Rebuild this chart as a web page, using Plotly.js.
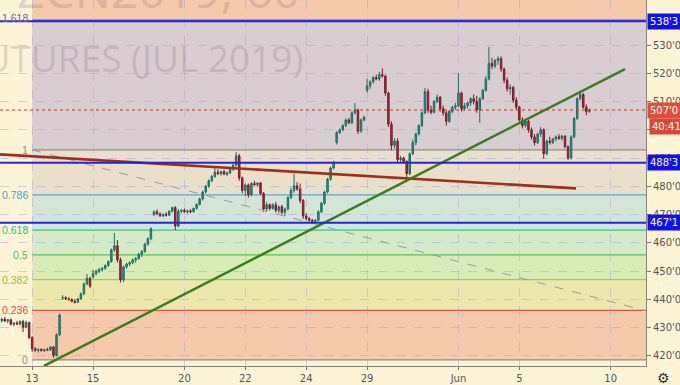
<!DOCTYPE html>
<html><head><meta charset="utf-8">
<script src="https://cdn.plot.ly/plotly-3.0.1.min.js"></script>
<style>html,body{margin:0;padding:0;background:#fdf3d5;}#chart{width:680px;height:385px;}</style>
</head><body><div id="chart"></div>
<script>
// ---- x axis (trading-day index, 0 = May 13) ----
const tickDays   = [0, 2, 5, 7, 9, 11, 14, 16, 19];
const tickLabels = ['13', '15', '20', '22', '24', '29', 'Jun', '5', '10'];
const barStart = -1, barStep = 0.1;   // hourly bars, 10 per trading day

// ---- hourly OHLC ----
const open = [
432.5,433,432.4,432.8,431.2,431.6,431.3,432.2,430.2,431.8,
426.5,422.5,422,422.3,421.9,422.2,422.1,423.2,420.2,427.5,
440.5,440.6,440.2,440,439.3,439,440.2,442,445.5,447.5,
448,449.2,450,450.6,451,452,453.4,457.5,459,454,
447,451.5,452.5,453,454,454.5,456,457,459.5,461.5,
470,471,470.2,469.6,470,469.8,471.2,472.5,466,471.2,
471.5,471,471.3,471,472.2,473.6,475.5,478,480,482,
483.5,485,484.5,485.2,484.3,484.8,486,487.5,490.8,483,
478.5,480.5,477,481,480.6,481.2,477.5,472,473.5,472.2,
473.5,471.5,472.8,470.8,472,476,478.5,480.2,479,475,
469.5,468.6,468,467.6,468,471,474,478,482.5,486.5,
495.5,499,500,501.5,503.5,502.5,506,507,499.5,503.5,
514,515.5,517,518.5,518,519.5,519,513,502,494.5,
496,489.5,490,488.8,484.5,491.5,495.5,498.5,501.5,506,
513.5,507,506.2,510,511.5,507.5,506,503,506.5,508,
508.5,513,507.5,508.5,509.5,511,510,507,511,514,
518,523.5,522.5,524.5,525.2,521.5,517.5,514.5,515,510.5,
508,503.5,501.5,503,500,497.5,495.5,498.5,500,491.5,
496,495.5,496.8,497.5,497,497.8,494,490,497.5,504,
511,512.5,508,506.5];
const high = [
433.5,433.8,433,433.2,432,432.4,432.6,432.8,432.5,432.2,
427,423.2,422.8,422.8,422.6,422.9,423.5,423.6,428,435,
441.5,441.2,440.8,440.4,440,440.5,442.5,446,449,448,
450.5,450.5,451.2,451.5,452.4,453.8,458,463.5,461,454.8,
452,453,453.5,454.5,455,456.5,457.5,460,462,465.5,
471.5,471.8,470.8,470.5,470.8,471.5,472.8,473,472,472,
472.2,471.8,472,472.5,474,476,478.5,480.5,482.5,484,
486.5,486,485.5,485.8,485.2,486.5,488,492.2,491.5,483.5,
481,481,481.5,482,481.5,481.6,478,474.5,474,474,
474.5,473.2,473.5,472.5,476.5,479.5,484.5,481.5,481,475.5,
470.5,469.2,468.5,468.4,471.5,474.5,478.5,483,487,489,
499.5,500.5,502,504,504.2,506.5,509.5,507.5,504,505,
518,517.5,519,519.5,520.5,521.8,519.5,513.5,503,497,
497,490.8,490.5,489.2,492,496.5,499,502,506.5,514.8,
514.5,508.5,510.5,512.5,512,508.5,506.8,507,508.5,509.5,
520,513.5,509.5,510,511.5,512.5,512,511.5,514.5,519,
529.3,525.5,525,526,526,522,518.5,516,515.5,511.5,
508.5,504.5,504,503.5,500.8,498.5,499,501,500.5,496.5,
497.5,497,498,498.5,498.2,498,494.5,498,504.5,511.5,
513.4,513,509,507.5];
const low = [
431.8,432,431.5,430.8,430.5,431,430.8,428.5,429.8,426,
421.5,421.5,421.2,421.6,421.4,421.8,421.8,419.4,419.8,427,
439.8,439.8,439.5,439,438.6,438.7,440,441.5,445,444,
447.5,448.5,449.3,449.8,450.5,451.5,453,456.8,453,446,
446.2,450.8,451.8,452.5,453,454,455,456.5,459,461,
469.5,469.8,469.2,469,469.3,469.5,470.8,464.5,465.5,470.5,
470.6,470.3,470.5,470.8,471.8,473.2,475,477.5,479.5,481.5,
483,484,483.8,484,483.6,484.3,485.5,487,482,477.5,
476.5,476,476.5,480.2,479.8,477,471,471.2,471.5,471.8,
470.8,470.5,470,469.5,471.5,475.5,477.8,478.5,474,468.5,
468,467.5,467.2,467.1,467.6,470.5,473.5,477.5,482,486,
494.8,498.5,499.5,501,502,502,505.5,498.5,499,503,
513.2,514.5,516.3,517.5,517.3,518.5,512,501,492.8,493.5,
488.5,488.6,488.4,483.3,484,491,494.5,498,501,505.5,
506,505.5,505.8,509.5,506.5,505,501.5,502.5,505.8,507,
508,506.5,506.8,507.5,508.5,509,506,502.5,510.5,513.5,
517.5,521.5,521.8,523,520.5,516.5,513.5,512.5,509.5,507,
502.5,500.5,500.8,499,496.5,494.5,495,497.5,489.8,491,
494.8,495,496,496.5,496.2,493.5,489.3,489.5,497,503.5,
510.5,507.5,505.2,506];
const close = [
433,432.4,432.8,431.2,431.6,431.3,432.2,430.2,431.8,426.5,
422.5,422,422.3,421.9,422.2,422.1,423.2,420.2,427.5,434.5,
440.6,440.2,440,439.3,439,440.2,442,445.5,447.5,444.8,
449.2,450,450.6,451,452,453.4,457.5,459,454,447,
451.5,452.5,453,454,454.5,456,457,459.5,461.5,465,
471,470.2,469.6,470,469.8,471.2,472.5,466,471.2,471.5,
471,471.3,471,472.2,473.6,475.5,478,480,482,483.5,
485,484.5,485.2,484.3,484.8,486,487.5,490.8,483,478.5,
480.5,477,481,480.6,481.2,477.5,472,473.5,472.2,473.5,
471.5,472.8,470.8,472,476,478.5,480.2,479,475,469.5,
468.6,468,467.6,468,471,474,478,482.5,486.5,488.5,
499,500,501.5,503.5,502.5,506,507,499.5,503.5,504.5,
515.5,517,518.5,518,519.5,519,513,502,494.5,496,
489.5,490,488.8,484.5,491.5,495.5,498.5,501.5,506,513.5,
507,506.2,510,511.5,507.5,506,503,506.5,508,508.5,
513,507.5,508.5,509.5,511,510,507,511,514,518,
523.5,522.5,524.5,525.2,521.5,517.5,514.5,515,510.5,508,
503.5,501.5,503,500,497.5,495.5,498.5,500,491.5,496,
495.5,496.8,497.5,497,497.8,494,490,497.5,504,511,
512.5,508,506.5,507];

// ---- y axis ticks ----
const priceTicks = [420,430,440,450,460,470,480,490,500,510,520,530];

// ---- Fibonacci retracement ----
const fibStartDay = 0;
const fibPrice0 = 418.6, fibPrice1 = 492.9;
const fibLevels = [0, 0.236, 0.382, 0.5, 0.618, 0.786, 1, 1.618, 2.618];
const fibLabels = ['0', '0.236', '0.382', '0.5', '0.618', '0.786', '1', '1.618', ''];
const fibLineColors = ['#8d8d96', '#e0533e', '#a6cc3a', '#5cbf58', '#36c49a', '#55a7dc', '#8d8d96', '#4f57c8', '#e0533e'];
const fibLabelColors = ['#8d8d96', '#e0533e', '#9cc52e', '#4fbf4f', '#2fc08f', '#4aa0d8', '#8d8d96', '#6a6a90', '#e0533e'];
const fibZoneColors = ['#f5c9ab', '#ebe8ae', '#d9ebb6', '#d4ebc6', '#d3e5d6', '#eadfc8', '#d8cdd0', '#f5c9ab'];

// ---- drawn lines ----
const greenLineX = [0.39, 19.47], greenLineY = [416.5, 521.5];
const redLineX = [-1.057, 17.86], redLineY = [491.3, 479.3];
const fibDashX = [0, 20.12], fibDashY = [492.9, 436.1];
const hLevels = [538.375, 488.375, 467.125];
const hLevelLabels = ["538'3", "488'3", "467'1"];
const lastPrice = 507.0, lastPriceLabel = "507'0", countdown = '40:41';

const xRange = [-1.057, 20.16];
const yRange = [416.46, 545.92];

const xs = open.map((_, i) => barStart + barStep * i);

const traces = [
  {type: 'candlestick', x: xs, open: open, high: high, low: low, close: close,
   increasing: {line: {color: '#1f6e64', width: 1}, fillcolor: '#2f8f80'},
   decreasing: {line: {color: '#7c1b2c', width: 1}, fillcolor: '#a92b41'},
   whiskerwidth: 0, hoverinfo: 'skip', showlegend: false},
  {type: 'scatter', mode: 'lines', x: fibDashX, y: fibDashY,
   line: {color: '#9a9a9a', width: 1, dash: 'dash'}, hoverinfo: 'skip', showlegend: false},
  {type: 'scatter', mode: 'lines', x: redLineX, y: redLineY,
   line: {color: '#a02e1c', width: 2.6}, hoverinfo: 'skip', showlegend: false},
  {type: 'scatter', mode: 'lines', x: greenLineX, y: greenLineY,
   line: {color: '#3a7f1c', width: 2.5}, hoverinfo: 'skip', showlegend: false}
];

const shapes = [];
const annotations = [];
const fibPrice = lv => fibPrice0 + lv * (fibPrice1 - fibPrice0);
for (let k = 0; k < fibLevels.length - 1; k++) {
  shapes.push({type: 'rect', layer: 'below', xref: 'x', yref: 'y',
    x0: fibStartDay, x1: 30, y0: fibPrice(fibLevels[k]), y1: fibPrice(fibLevels[k + 1]),
    fillcolor: fibZoneColors[k], line: {width: 0}});
}
for (let k = 0; k < fibLevels.length - 1; k++) {
  shapes.push({type: 'line', layer: 'below', xref: 'x', yref: 'y',
    x0: fibStartDay, x1: 30, y0: fibPrice(fibLevels[k]), y1: fibPrice(fibLevels[k]),
    line: {color: fibLineColors[k], width: 1.2}});
  annotations.push({xref: 'x', yref: 'y', x: fibStartDay, y: fibPrice(fibLevels[k]),
    xanchor: 'right', yanchor: 'middle', xshift: -2, yshift: (fibLevels[k] === 1.618 ? 2 : 0), showarrow: false,
    text: fibLabels[k], font: {family: 'Liberation Sans, Arial, sans-serif', size: 10.5, color: fibLabelColors[k]}});
}
// horizontal blue levels
hLevels.forEach((p, k) => {
  shapes.push({type: 'line', layer: 'above', xref: 'paper', yref: 'y', x0: 0, x1: 1, y0: p, y1: p,
    line: {color: '#2323e6', width: 2}});
  annotations.push({xref: 'paper', yref: 'y', x: 1, y: p, xanchor: 'left', yanchor: 'middle',
    xshift: 1, showarrow: false, text: hLevelLabels[k], bgcolor: '#1010f0', borderpad: 2,
    font: {family: 'DejaVu Sans, sans-serif', size: 10, color: '#ffffff'}});
});
// last price line
shapes.push({type: 'line', layer: 'above', xref: 'paper', yref: 'y', x0: 0, x1: 1, y0: lastPrice, y1: lastPrice,
  line: {color: '#c0392b', width: 1, dash: 'dot'}});
annotations.push({xref: 'paper', yref: 'y', x: 1, y: lastPrice, xanchor: 'left', yanchor: 'middle',
  xshift: 1, showarrow: false, text: lastPriceLabel, bgcolor: '#df4f37', borderpad: 2,
  font: {family: 'DejaVu Sans, sans-serif', size: 10, color: '#ffffff'}});
annotations.push({xref: 'paper', yref: 'y', x: 1, y: lastPrice, xanchor: 'left', yanchor: 'top',
  xshift: 3, yshift: -8, showarrow: false, text: countdown, bgcolor: '#d9463a', borderpad: 2,
  font: {family: 'DejaVu Sans, sans-serif', size: 10, color: '#ffffff'}});
// watermark
annotations.push({xref: 'paper', yref: 'paper', x: 305 / 646, y: 1 - 57 / 366, xanchor: 'right', yanchor: 'middle',
  showarrow: false, text: 'CORN FUTURES (JUL 2019)',
  font: {family: 'Open Sans, sans-serif', size: 37, color: 'rgba(120,100,125,0.24)'}});
annotations.push({xref: 'paper', yref: 'paper', x: 302 / 646, y: 1 + 10 / 366, xanchor: 'right', yanchor: 'middle',
  showarrow: false, text: 'ZCN2019, 60',
  font: {family: 'Open Sans, sans-serif', size: 48, color: 'rgba(120,100,125,0.24)'}});
// gear
annotations.push({xref: 'paper', yref: 'paper', x: 1, y: 0, xanchor: 'left', yanchor: 'top', xshift: 9, yshift: -2,
  showarrow: false, text: '⚙', font: {family: 'DejaVu Sans', size: 14, color: '#333'}});

const layout = {
  width: 680, height: 385,
  margin: {l: 0, r: 34, t: 0, b: 19, pad: 0},
  paper_bgcolor: '#fdf3d5', plot_bgcolor: '#fdf3d5',
  showlegend: false,
  xaxis: {range: xRange, tickvals: tickDays, ticktext: tickLabels, ticks: 'outside', ticklen: 3,
    tickcolor: '#777', showline: true, linecolor: '#8a8478', linewidth: 1, mirror: false,
    showgrid: true, gridcolor: 'rgba(160,160,215,0.45)', griddash: 'dash', gridwidth: 1,
    zeroline: false, rangeslider: {visible: false}, fixedrange: true,
    tickfont: {family: 'DejaVu Sans, sans-serif', size: 10, color: '#555'}},
  yaxis: {range: yRange, side: 'right', tickvals: priceTicks, ticktext: priceTicks.map(v => v + "'0"),
    ticks: 'outside', ticklen: 4, tickcolor: '#777', showline: true, linecolor: '#8a8478', linewidth: 1,
    showgrid: true, gridcolor: 'rgba(160,160,215,0.45)', griddash: 'dash', gridwidth: 1,
    zeroline: false, fixedrange: true,
    tickfont: {family: 'DejaVu Sans, sans-serif', size: 10, color: '#555'}},
  shapes: shapes, annotations: annotations
};
Plotly.newPlot('chart', traces, layout, {displayModeBar: false, staticPlot: true});
</script></body></html>
